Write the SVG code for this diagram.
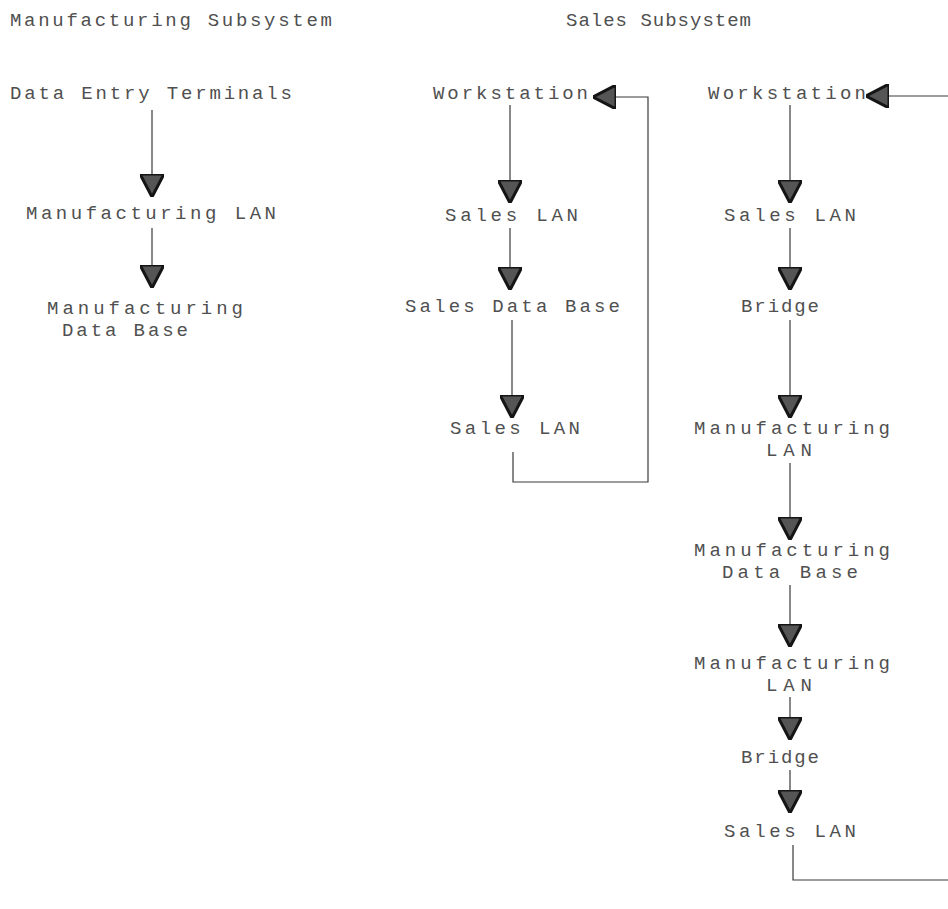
<svg xmlns="http://www.w3.org/2000/svg" width="948" height="909" viewBox="0 0 948 909">
<style>
  text { font-family: "Liberation Mono", "DejaVu Sans Mono", monospace; font-size: 19px; fill: #505050; }
  .ln { stroke: #3a3a3a; stroke-width: 1.2; fill: none; }
</style>
<defs>
  <marker id="ah" viewBox="0 0 23 24" refX="23" refY="12" markerWidth="23" markerHeight="24" markerUnits="userSpaceOnUse" orient="auto">
    <path d="M0,0 L23,12 L0,24 Z" fill="#555555" stroke="#151515" stroke-width="3" stroke-linejoin="round"/>
  </marker>
</defs>
<rect width="948" height="909" fill="#ffffff"/>

<g id="titles">
  <text x="10" y="26" textLength="322" lengthAdjust="spacing">Manufacturing Subsystem</text>
  <text x="566" y="26" textLength="185" lengthAdjust="spacing">Sales Subsystem</text>
</g>

<g id="m-terminals"><text x="10" y="99" textLength="282" lengthAdjust="spacing">Data Entry Terminals</text></g>
<g id="m-lan"><text x="26" y="219" textLength="250" lengthAdjust="spacing">Manufacturing LAN</text></g>
<g id="m-db">
  <text x="47" y="314" textLength="196" lengthAdjust="spacing">Manufacturing</text>
  <text x="62" y="336" textLength="126" lengthAdjust="spacing">Data Base</text>
</g>

<g id="s1-ws"><text x="433" y="99" textLength="155" lengthAdjust="spacing">Workstation</text></g>
<g id="s1-lan1"><text x="445" y="221" textLength="133" lengthAdjust="spacing">Sales LAN</text></g>
<g id="s1-db"><text x="405" y="312" textLength="215" lengthAdjust="spacing">Sales Data Base</text></g>
<g id="s1-lan2"><text x="450" y="434" textLength="130" lengthAdjust="spacing">Sales LAN</text></g>

<g id="s2-ws"><text x="708" y="99" textLength="158" lengthAdjust="spacing">Workstation</text></g>
<g id="s2-lan1"><text x="724" y="221" textLength="132" lengthAdjust="spacing">Sales LAN</text></g>
<g id="s2-bridge1"><text x="741" y="312" textLength="78" lengthAdjust="spacing">Bridge</text></g>
<g id="s2-mlan1">
  <text x="694" y="434" textLength="196" lengthAdjust="spacing">Manufacturing</text>
  <text x="766" y="456" textLength="46" lengthAdjust="spacing">LAN</text>
</g>
<g id="s2-mdb">
  <text x="694" y="556" textLength="196" lengthAdjust="spacing">Manufacturing</text>
  <text x="722" y="578" textLength="136" lengthAdjust="spacing">Data Base</text>
</g>
<g id="s2-mlan2">
  <text x="694" y="669" textLength="196" lengthAdjust="spacing">Manufacturing</text>
  <text x="766" y="691" textLength="46" lengthAdjust="spacing">LAN</text>
</g>
<g id="s2-bridge2"><text x="741" y="763" textLength="78" lengthAdjust="spacing">Bridge</text></g>
<g id="s2-lan2"><text x="724" y="837" textLength="132" lengthAdjust="spacing">Sales LAN</text></g>

<g id="connectors" class="ln">
  <line x1="152" y1="110" x2="152" y2="197" marker-end="url(#ah)"/>
  <line x1="152" y1="228" x2="152" y2="288" marker-end="url(#ah)"/>
  <line x1="510" y1="105" x2="510" y2="203" marker-end="url(#ah)"/>
  <line x1="510" y1="228" x2="510" y2="290" marker-end="url(#ah)"/>
  <line x1="512" y1="320" x2="512" y2="418" marker-end="url(#ah)"/>
  <polyline points="513,452 513,482 648,482 648,97 593,97" marker-end="url(#ah)"/>
  <line x1="790" y1="105" x2="790" y2="203" marker-end="url(#ah)"/>
  <line x1="790" y1="228" x2="790" y2="290" marker-end="url(#ah)"/>
  <line x1="790" y1="320" x2="790" y2="418" marker-end="url(#ah)"/>
  <line x1="790" y1="463" x2="790" y2="540" marker-end="url(#ah)"/>
  <line x1="790" y1="585" x2="790" y2="647" marker-end="url(#ah)"/>
  <line x1="790" y1="697" x2="790" y2="740" marker-end="url(#ah)"/>
  <line x1="790" y1="770" x2="790" y2="813" marker-end="url(#ah)"/>
  <polyline points="793,845 793,880 948,880"/>
  <line x1="948" y1="96" x2="866" y2="96" marker-end="url(#ah)"/>
</g>
</svg>
